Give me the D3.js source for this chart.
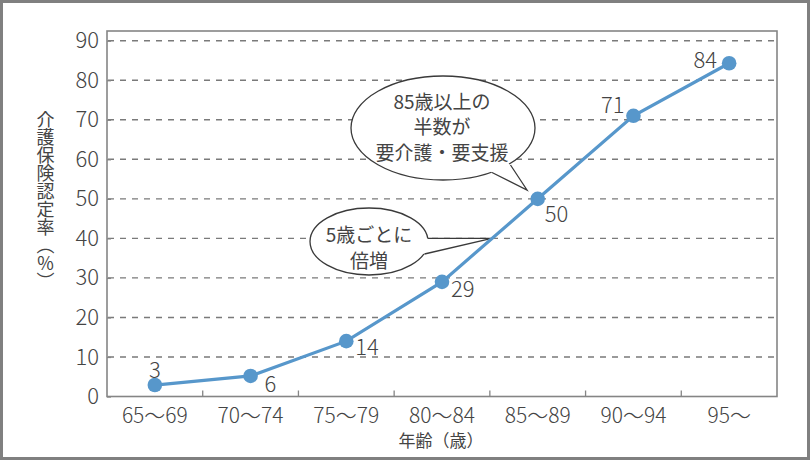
<!DOCTYPE html>
<html><head><meta charset="utf-8">
<script src="https://cdn.jsdelivr.net/npm/d3@7"></script>
<style>
html,body{margin:0;padding:0;background:#fff;}
svg{display:block;font-family:"Noto Sans CJK JP","Noto Sans",sans-serif;}
</style></head>
<body><svg id="c" width="810" height="460"></svg>
<script>
const categories = ["65〜69","70〜74","75〜79","80〜84","85〜89","90〜94","95〜"];
const values = [2.9, 5.2, 14.0, 29.0, 50.0, 71.0, 84.3];
const valueLabels = ["3","6","14","29","50","71","84"];
const yTicks = [0,10,20,30,40,50,60,70,80,90];
const yTitle = "介護保険認定率（％）";
const xTitle = "年齢（歳）";
const callout1 = ["85歳以上の","半数が","要介護・要支援"];
const callout2 = ["5歳ごとに","倍増"];

const W = 810, H = 460;
const L = 107, R = 777, T = 31, B = 396.5;
const textColor = "#444";
const frameColor = "#858585";
const lineColor = "#5797cb";

const svg = d3.select("#c");
svg.append("rect").attr("x",1.5).attr("y",1.5).attr("width",W-3).attr("height",H-3)
  .attr("fill","#fff").attr("stroke","#808080").attr("stroke-width",3);

const x = d3.scaleBand().domain(categories).range([L,R]).padding(0);
const y = d3.scaleLinear().domain([0,90]).range([B,40.7]);

// gridlines
svg.append("g").selectAll("line").data(yTicks.filter(d=>d>0)).join("line")
  .attr("x1",L+1).attr("x2",R).attr("y1",d=>y(d)).attr("y2",d=>y(d))
  .attr("stroke","#7a7a7a").attr("stroke-width",1.4).attr("stroke-dasharray","6,6");

// frame
svg.append("rect").attr("x",L).attr("y",T).attr("width",R-L).attr("height",B-T)
  .attr("fill","none").attr("stroke",frameColor).attr("stroke-width",1.6);

// y axis
const ya = svg.append("g").attr("transform",`translate(${L},0)`)
  .call(d3.axisLeft(y).tickValues(yTicks).tickSizeInner(-4).tickSizeOuter(0).tickPadding(8));
ya.select(".domain").remove();
ya.selectAll(".tick line").attr("stroke",frameColor).attr("stroke-width",1.3);
ya.selectAll(".tick text").attr("fill",textColor).attr("font-size",22).attr("font-weight",300)
  .attr("font-family",'"Noto Sans CJK JP",sans-serif');

// x axis labels
const xa = svg.append("g").attr("transform",`translate(0,${B})`)
  .call(d3.axisBottom(x).tickSize(0).tickPadding(12));
xa.select(".domain").remove();
xa.selectAll(".tick text").attr("fill",textColor).attr("font-size",21).attr("font-weight",300)
  .attr("font-family",'"Noto Sans CJK JP",sans-serif');
// boundary ticks (inward)
svg.append("g").selectAll("line").data(categories.slice(1)).join("line")
  .attr("x1",d=>x(d)).attr("x2",d=>x(d)).attr("y1",B).attr("y2",B-6)
  .attr("stroke",frameColor).attr("stroke-width",1.3);

// titles
svg.append("text").attr("x",45.5).attr("y",200).attr("text-anchor","middle")
  .style("writing-mode","vertical-rl").style("text-orientation","upright")
  .attr("font-size",18).attr("fill",textColor).text(yTitle);
svg.append("text").attr("x",441).attr("y",439).attr("text-anchor","middle")
  .attr("dominant-baseline","central").attr("font-size",17).attr("fill",textColor).text(xTitle);

// callouts
function callout(cx, cy, rx, ry, base1, base2, tip, lines, fs, lh, tx, ty){
  const g = svg.append("g");
  g.append("ellipse").attr("cx",cx).attr("cy",cy).attr("rx",rx).attr("ry",ry)
    .attr("fill","#fff").attr("stroke","#3a3a3a").attr("stroke-width",1.3);
  const inner = [cx + (base1[0]-cx)*0.9, cy + (base1[1]-cy)*0.9];
  const inner2 = [cx + (base2[0]-cx)*0.9, cy + (base2[1]-cy)*0.9];
  g.append("path").attr("d",`M${inner[0]},${inner[1]}L${base1[0]},${base1[1]}L${tip[0]},${tip[1]}L${base2[0]},${base2[1]}L${inner2[0]},${inner2[1]}Z`)
    .attr("fill","#fff").attr("stroke","none");
  g.append("path").attr("d",`M${base1[0]},${base1[1]}L${tip[0]},${tip[1]}L${base2[0]},${base2[1]}`)
    .attr("fill","none").attr("stroke","#3a3a3a").attr("stroke-width",1.3).attr("stroke-linejoin","miter");
  g.selectAll("text").data(lines).join("text")
    .attr("x",tx).attr("y",(d,i)=>ty + i*lh).attr("text-anchor","middle")
    .attr("dominant-baseline","central").attr("font-size",fs).attr("fill",textColor).text(d=>d);
}
callout(443,128,92,52,[492,172.5],[510.5,165],[527,190],callout1,19,25.5,442,100);
callout(369,241.5,59,33.5,[427.6,238.3],[424.5,254],[491.7,238.3],callout2,19,25.5,369,233.5);

// line + points
const line = d3.line().x((d,i)=>x(categories[i])+x.bandwidth()/2).y(d=>y(d));
svg.append("path").datum(values).attr("d",line).attr("fill","none")
  .attr("stroke",lineColor).attr("stroke-width",3.2);
svg.append("g").selectAll("circle").data(values).join("circle")
  .attr("cx",(d,i)=>x(categories[i])+x.bandwidth()/2).attr("cy",d=>y(d)).attr("r",7.3)
  .attr("fill",lineColor);

// value labels
const labelPlace = [[0,-17,"middle"],[14,6.5,"start"],[9,4,"start"],[9,5.5,"start"],[7,13,"start"],[-9,-13,"end"],[-12,-5.5,"end"]];
svg.append("g").selectAll("text").data(values).join("text")
  .attr("x",(d,i)=>x(categories[i])+x.bandwidth()/2+labelPlace[i][0])
  .attr("y",(d,i)=>y(d)+labelPlace[i][1])
  .attr("text-anchor",(d,i)=>labelPlace[i][2]).attr("dominant-baseline","central")
  .attr("font-size",22).attr("font-weight",300).attr("fill",textColor)
  .text((d,i)=>valueLabels[i]);
</script></body></html>
